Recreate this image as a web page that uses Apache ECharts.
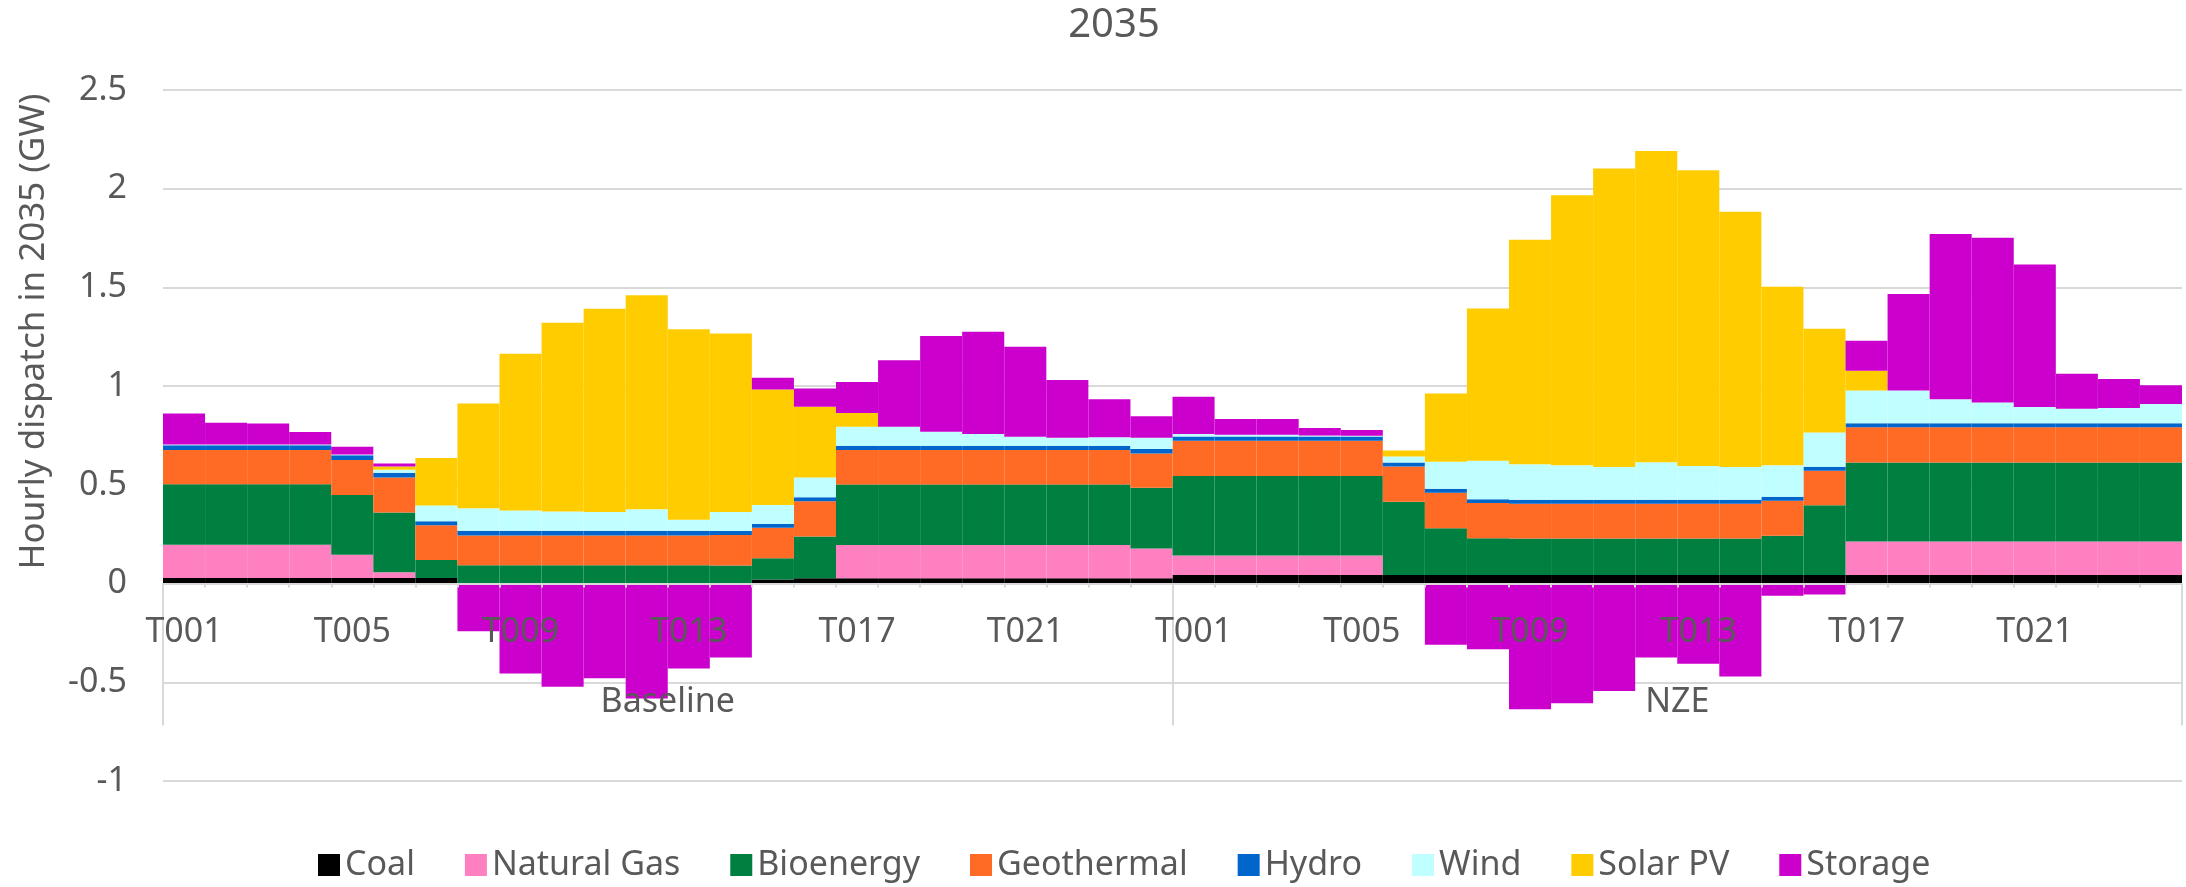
<!DOCTYPE html>
<html>
<head>
<meta charset="utf-8">
<script src="https://cdn.jsdelivr.net/npm/echarts@6/dist/echarts.min.js"></script>
<style>
  html, body { margin: 0; padding: 0; background: #ffffff; }
  #chart { width: 2186px; height: 887px; }
</style>
</head>
<body>
<div id="chart"></div>
<script>
// Hourly time slices and the two scenarios they repeat under
const hours = ['T001','T002','T003','T004','T005','T006','T007','T008','T009','T010','T011','T012',
               'T013','T014','T015','T016','T017','T018','T019','T020','T021','T022','T023','T024'];
const scenarios = ['Baseline', 'NZE'];
const yTicks = { min: -1, max: 2.5, step: 0.5 };

// Dispatch by technology (GW); first 24 values Baseline, next 24 NZE
const coal = [0.028,0.028,0.028,0.028,0.028,0.028,0.028,0,0,0,0,0,0,0,0.02,0.027,0.027,0.027,0.027,0.027,0.027,0.027,0.027,0.027,
              0.043,0.043,0.043,0.043,0.043,0.043,0.043,0.043,0.043,0.043,0.043,0.043,0.043,0.043,0.043,0.043,0.043,0.043,0.043,0.043,0.043,0.043,0.043,0.043];
const naturalGas = [0.169,0.169,0.169,0.169,0.118,0.029,0,0,0,0,0,0,0,0,0,0,0.168,0.168,0.168,0.168,0.168,0.168,0.168,0.151,
                    0.099,0.099,0.099,0.099,0.099,0,0,0,0,0,0,0,0,0,0,0,0.17,0.17,0.17,0.17,0.17,0.17,0.17,0.17];
const bioenergy = [0.306,0.306,0.306,0.306,0.303,0.303,0.092,0.093,0.093,0.093,0.093,0.093,0.093,0.091,0.108,0.211,0.307,0.307,0.307,0.307,0.307,0.307,0.307,0.307,
                   0.403,0.403,0.403,0.403,0.403,0.372,0.237,0.187,0.185,0.185,0.185,0.185,0.185,0.185,0.199,0.354,0.40,0.40,0.40,0.40,0.40,0.40,0.40,0.40];
const geothermal = [0.174,0.174,0.174,0.174,0.177,0.177,0.175,0.151,0.151,0.151,0.151,0.151,0.151,0.155,0.155,0.179,0.174,0.174,0.174,0.174,0.174,0.174,0.174,0.174,
                    0.179,0.179,0.179,0.179,0.179,0.178,0.18,0.178,0.176,0.176,0.176,0.176,0.176,0.176,0.178,0.175,0.179,0.179,0.179,0.179,0.179,0.179,0.179,0.179];
const hydro = [0.023,0.023,0.023,0.023,0.024,0.024,0.021,0.024,0.024,0.024,0.024,0.024,0.024,0.02,0.019,0.02,0.022,0.022,0.022,0.022,0.022,0.022,0.022,0.022,
               0.021,0.021,0.021,0.021,0.021,0.02,0.02,0.019,0.02,0.02,0.02,0.02,0.02,0.02,0.02,0.02,0.02,0.02,0.02,0.02,0.02,0.02,0.02,0.02];
const wind = [0.005,0.005,0.005,0.005,0.004,0.015,0.08,0.114,0.102,0.097,0.094,0.109,0.055,0.097,0.096,0.10,0.096,0.096,0.071,0.059,0.046,0.041,0.043,0.058,
              0.012,0.009,0.009,0.005,0.004,0.03,0.137,0.195,0.18,0.175,0.167,0.19,0.171,0.167,0.159,0.173,0.166,0.166,0.122,0.105,0.082,0.073,0.077,0.097];
const solarPV = [0,0,0,0,0,0.017,0.24,0.53,0.794,0.956,1.03,1.083,0.965,0.904,0.585,0.358,0.07,0,0,0,0,0,0,0,
                 0,0,0,0,0,0.031,0.346,0.771,1.138,1.368,1.511,1.577,1.499,1.292,0.905,0.526,0.10,0,0,0,0,0,0,0];
const storage = [0.157,0.11,0.106,0.063,0.039,0.015,0,-0.241,-0.456,-0.522,-0.48,-0.582,-0.43,-0.374,0.059,0.093,0.157,0.337,0.485,0.518,0.456,0.292,0.192,0.109,
                 0.189,0.079,0.079,0.038,0.029,0,-0.31,-0.333,-0.637,-0.606,-0.544,-0.375,-0.406,-0.471,-0.062,-0.055,0.152,0.489,0.837,0.834,0.722,0.178,0.147,0.095];

const technologies = [
  { name: 'Coal',        data: coal,       color: '#000000' },
  { name: 'Natural Gas', data: naturalGas, color: '#FF80C0' },
  { name: 'Bioenergy',   data: bioenergy,  color: '#008040' },
  { name: 'Geothermal',  data: geothermal, color: '#FF6A24' },
  { name: 'Hydro',       data: hydro,      color: '#0066CC' },
  { name: 'Wind',        data: wind,       color: '#C0FFFF' },
  { name: 'Solar PV',    data: solarPV,    color: '#FFCC00' },
  { name: 'Storage',     data: storage,    color: '#CC00CC' }
];

// Category axis: every hour, once per scenario
const categories = scenarios.flatMap(() => hours);

const TEXT = '#595959';
const GRIDLINE = '#d9d9d9';
const FONT = '"Noto Sans", "Open Sans", sans-serif';

const chart = echarts.init(document.getElementById('chart'), null, { renderer: 'canvas' });

chart.setOption({
  animation: false,
  backgroundColor: '#ffffff',
  textStyle: { fontFamily: FONT },
  title: {
    text: '2035',
    left: 1114,
    top: 6,
    padding: 0,
    textAlign: 'center',
    textStyle: { fontFamily: FONT, fontSize: 40, fontWeight: 'normal', color: TEXT }
  },
  legend: {
    data: technologies.map(t => t.name),
    left: 318,
    top: 848,
    icon: 'rect',
    itemWidth: 22,
    itemHeight: 22,
    itemGap: 50,
    padding: 0,
    textStyle: { fontFamily: FONT, fontSize: 34, color: TEXT }
  },
  grid: { left: 163, right: 4, top: 90, bottom: 106, containLabel: false },
  xAxis: [
    {
      // hour labels hang just under the zero line, drawn over the bars
      type: 'category',
      data: categories,
      position: 'bottom',
      z: 5,
      axisLine: { show: true, onZero: true, lineStyle: { color: GRIDLINE, width: 2 } },
      axisTick: { show: true, interval: 0, length: 4, lineStyle: { color: GRIDLINE, width: 2 } },
      axisLabel: { interval: 3, margin: -166, fontFamily: FONT, fontSize: 34, color: TEXT },
      splitLine: { show: false }
    },
    {
      // scenario groups with their long separator ticks
      type: 'category',
      data: scenarios,
      position: 'bottom',
      z: 5,
      axisLine: { show: false, onZero: true, onZeroAxisIndex: 0 },
      axisTick: { show: true, length: 142, lineStyle: { color: GRIDLINE, width: 2 } },
      axisLabel: { margin: -96, fontFamily: FONT, fontSize: 34, color: TEXT },
      splitLine: { show: false }
    }
  ],
  yAxis: {
    type: 'value',
    min: yTicks.min,
    max: yTicks.max,
    interval: yTicks.step,
    name: 'Hourly dispatch in 2035 (GW)',
    nameLocation: 'middle',
    nameRotate: 90,
    nameGap: 111,
    nameTextStyle: { fontFamily: FONT, fontSize: 35, color: TEXT, padding: [0, 0, 0, 208] },
    axisLine: { show: false },
    axisTick: { show: false },
    axisLabel: { margin: 36, fontFamily: FONT, fontSize: 34, color: TEXT },
    splitLine: { show: true, lineStyle: { color: GRIDLINE, width: 2 } }
  },
  series: technologies.map(t => ({
    name: t.name,
    type: 'bar',
    stack: 'dispatch',
    xAxisIndex: 0,
    barCategoryGap: '0%',
    data: t.data,
    itemStyle: { color: t.color },
    emphasis: { disabled: true }
  }))
});
</script>
</body>
</html>
